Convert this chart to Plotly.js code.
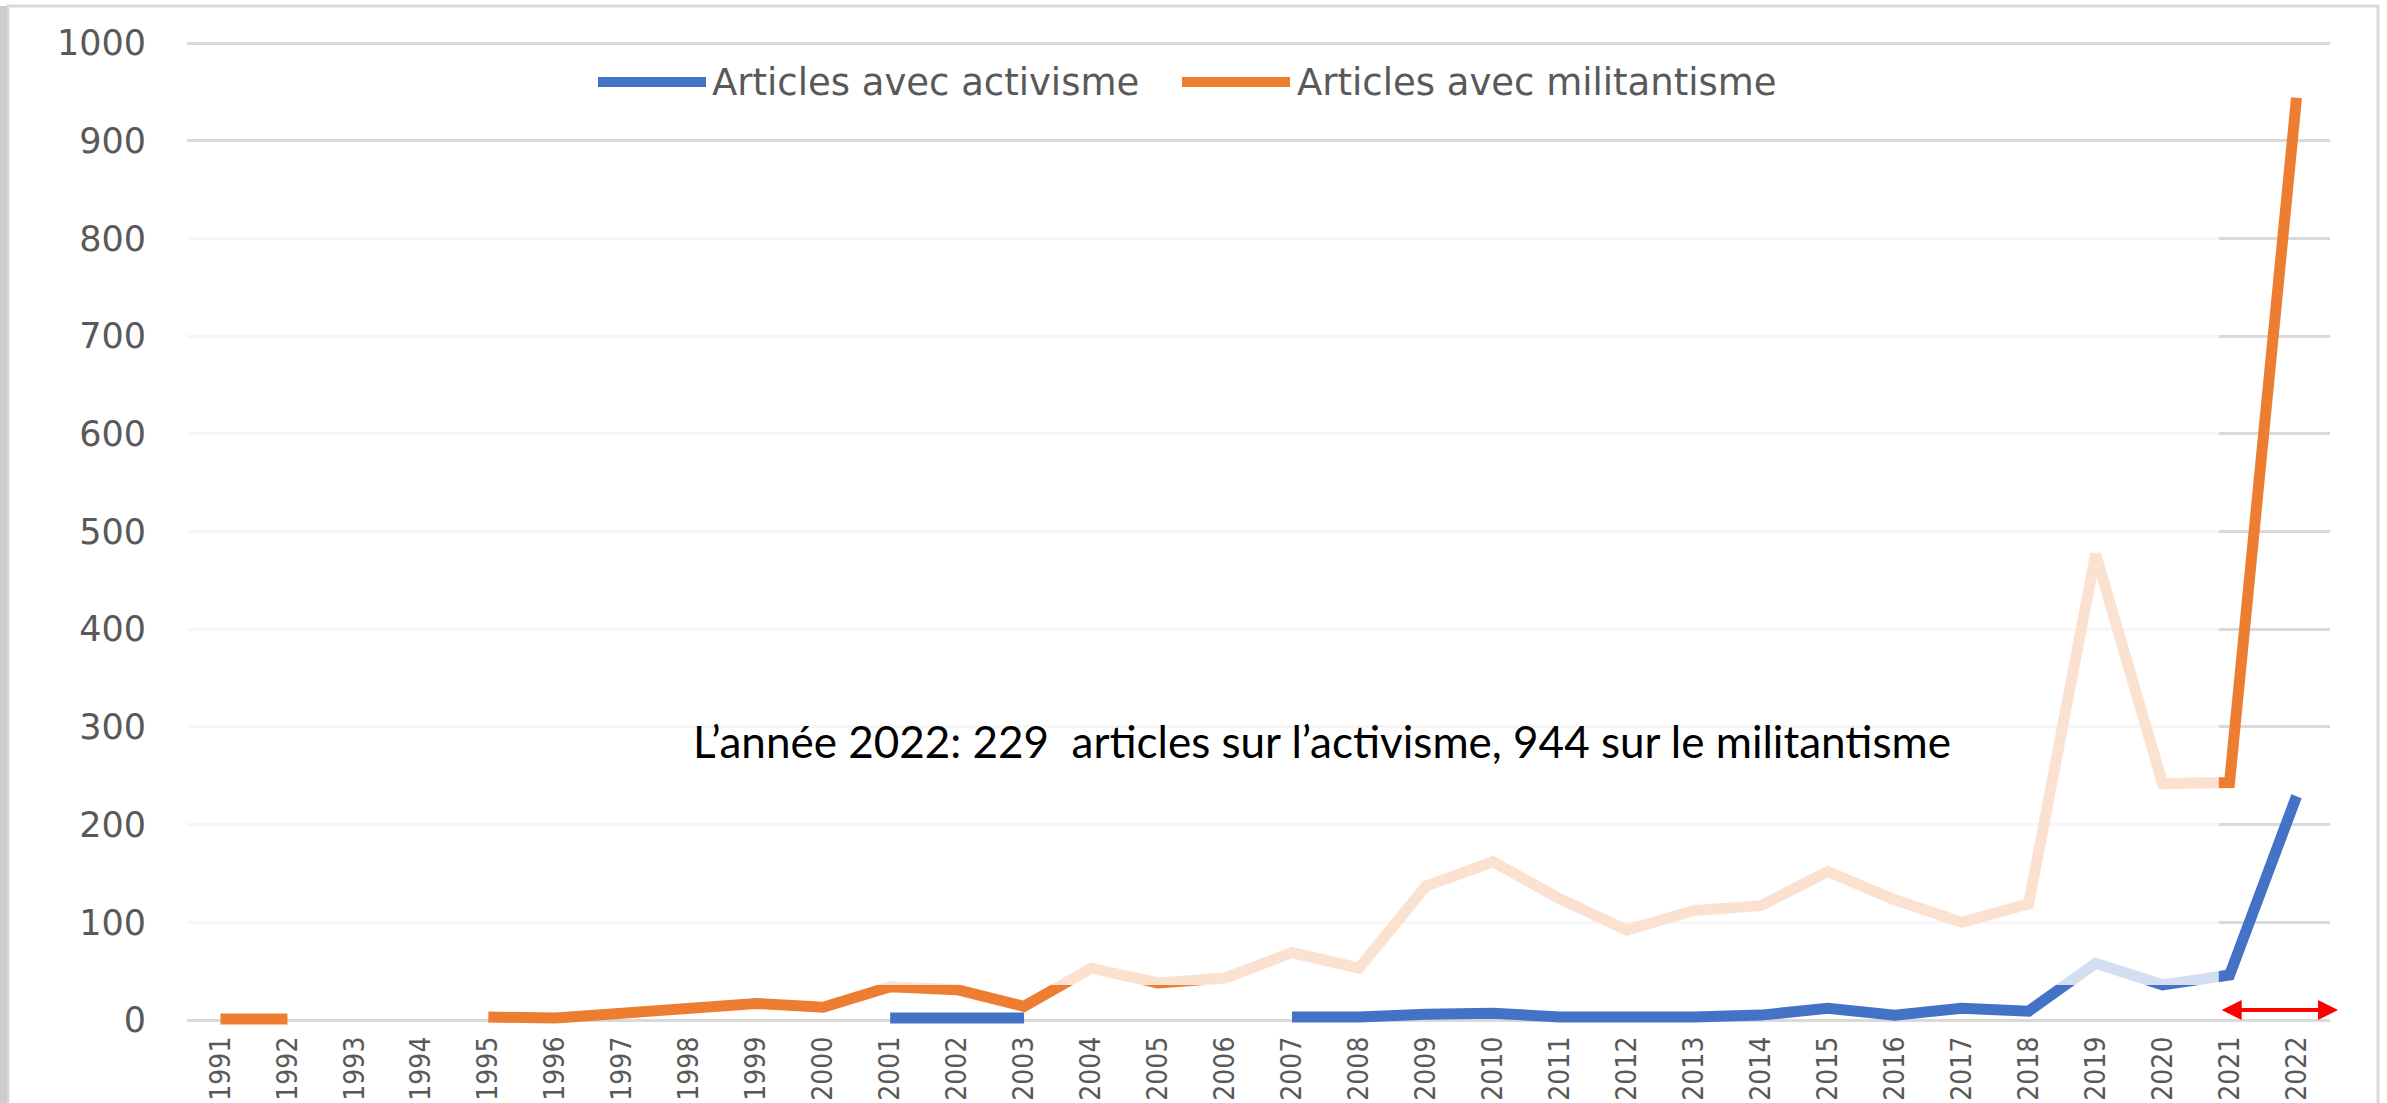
<!DOCTYPE html>
<html>
<head>
<meta charset="utf-8">
<script src="https://cdn.plot.ly/plotly-3.0.1.min.js"></script>
<style>html,body{margin:0;padding:0;background:#fff;}#chart{width:2387px;height:1103px;}</style>
</head>
<body>
<div id="chart"></div>
<script>
// ---- data ----
const years = [1991,1992,1993,1994,1995,1996,1997,1998,1999,2000,2001,2002,2003,2004,2005,2006,2007,2008,2009,2010,2011,2012,2013,2014,2015,2016,2017,2018,2019,2020,2021,2022];
const yearLabels = ["1991","1992","1993","1994","1995","1996","1997","1998","1999","2000","2001","2002","2003","2004","2005","2006","2007","2008","2009","2010","2011","2012","2013","2014","2015","2016","2017","2018","2019","2020","2021","2022"];
const activisme = [null,null,null,null,null,null,null,null,null,null,2,2,2,null,null,null,3,3,6,7,3,2,3,5,12,5,12,9,58,36,46,229];
const militantisme = [1,1,null,null,3,2,7,12,17,13,34,31,14,53,38,43,69,53,137,162,124,92,112,117,152,123,100,119,477,242,243,944];
const seriesNames = ["Articles avec activisme", "Articles avec militantisme"];
const yTicks = [0,100,200,300,400,500,600,700,800,900,1000];
const noteText = "L\u2019année 2022: 229 \u00a0articles sur l\u2019activisme, 944 sur le militantisme";

// ---- geometry (pixels) ----
const W = 2387, H = 1103;
const L = 187, R = 2330, T = 30, B = 1028;
const px = x => (x - L) / (R - L);
const py = y => (B - y) / (B - T);
const unit = 0.977;                 // px per article
const yZero = 1020;
const yMin = -(B - yZero) / unit;
const yMax = 1000 + (43 - T) / unit;

const blue = "#4472C4", orange = "#ED7D31", grey = "#595959";

const traces = [
  {x: years, y: activisme, name: seriesNames[0], type: "scatter", mode: "lines",
   line: {color: blue, width: 11}, connectgaps: false, showlegend: false, hoverinfo: "x+y"},
  {x: years, y: militantisme, name: seriesNames[1], type: "scatter", mode: "lines",
   line: {color: orange, width: 11}, connectgaps: false, showlegend: false, hoverinfo: "x+y"}
];

const shapes = [
  // faded overlay (white veil) over the middle of the chart
  {type: "rect", layer: "above", xref: "x", yref: "y", x0: 1990.5, x1: 2020.84, y0: 35.8, y1: 850,
   fillcolor: "rgba(255,255,255,0.77)", line: {width: 0}},
  // outer frame
  {type: "rect", layer: "below", xref: "paper", yref: "paper", x0: px(8), x1: px(2378), y0: py(1110), y1: py(6),
   fillcolor: "rgba(0,0,0,0)", line: {color: "#d9d9d9", width: 3}},
  {type: "rect", layer: "below", xref: "paper", yref: "paper", x0: px(0), x1: px(7), y0: py(1110), y1: py(6),
   fillcolor: "#cdcdcd", line: {width: 0}},
  // legend samples
  {type: "line", layer: "above", xref: "paper", yref: "paper", x0: px(598), x1: px(706), y0: py(82), y1: py(82),
   line: {color: blue, width: 10}},
  {type: "line", layer: "above", xref: "paper", yref: "paper", x0: px(1182), x1: px(1290), y0: py(82), y1: py(82),
   line: {color: orange, width: 10}}
];

const legendFont = {family: "DejaVu Sans, sans-serif", size: 37, color: grey};
const annotations = [
  {xref: "paper", yref: "paper", x: px(710), y: py(82), xanchor: "left", yanchor: "middle", showarrow: false,
   text: seriesNames[0], font: legendFont},
  {xref: "paper", yref: "paper", x: px(1295), y: py(82), xanchor: "left", yanchor: "middle", showarrow: false,
   text: seriesNames[1], font: legendFont},
  {xref: "paper", yref: "paper", x: px(1322), y: py(741), xanchor: "center", yanchor: "middle", showarrow: false,
   text: noteText, font: {family: "Lato, Open Sans, sans-serif", size: 44, color: "#000000"}},
  // red double arrow under 2021-2022
  {xref: "x", yref: "y", axref: "x", ayref: "y", x: 2022.62, y: 10.2, ax: 2020.86, ay: 10.2,
   text: "", showarrow: true, arrowside: "end+start", arrowhead: 2, arrowsize: 1, arrowwidth: 4,
   arrowcolor: "#FF0000", standoff: 0, startstandoff: 0}
];

const layout = {
  width: W, height: H,
  margin: {l: L, r: W - R, t: T, b: H - B, pad: 0},
  paper_bgcolor: "#ffffff", plot_bgcolor: "#ffffff",
  showlegend: false,
  xaxis: {
    range: [1990.5, 2022.5], tickvals: years, ticktext: yearLabels, tickangle: -90,
    showgrid: false, zeroline: false, showline: false, ticks: "",
    ticklabelstandoff: 2,
    tickfont: {family: "DejaVu Sans Condensed, sans-serif", size: 28, color: grey},
    fixedrange: true
  },
  yaxis: {
    range: [yMin, yMax], tickvals: yTicks, ticktext: yTicks.map(String),
    showgrid: true, gridcolor: "#d9d9d9", gridwidth: 3,
    zeroline: true, zerolinecolor: "#d9d9d9", zerolinewidth: 3,
    showline: false, ticks: "", ticklabelstandoff: 40,
    tickfont: {family: "DejaVu Sans, sans-serif", size: 35, color: grey},
    fixedrange: true
  },
  shapes: shapes,
  annotations: annotations
};

Plotly.newPlot("chart", traces, layout, {displayModeBar: false, staticPlot: true});
</script>
</body>
</html>
